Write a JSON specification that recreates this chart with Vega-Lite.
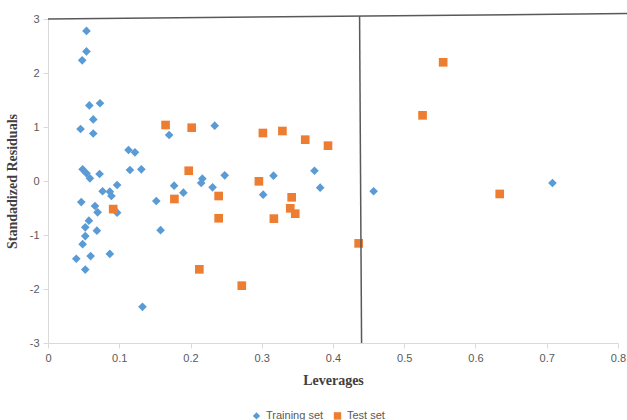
{
  "$schema": "https://vega.github.io/schema/vega-lite/v6.json",
  "width": 570,
  "height": 324,
  "autosize": "none",
  "padding": {"left": 48, "top": 19, "right": 9, "bottom": 77},
  "background": "white",
  "config": {
    "view": {"stroke": null},
    "axis": {
      "grid": false,
      "domainColor": "#d9d9d9",
      "tickColor": "#d9d9d9",
      "tickSize": 5,
      "labelFlush": false,
      "labelColor": "#595959",
      "labelFont": "Liberation Sans",
      "labelFontSize": 11,
      "titleFont": "Liberation Serif",
      "titleFontSize": 14,
      "titleFontWeight": "bold",
      "titleColor": "#404040"
    }
  },
  "datasets": {
    "points": [
      {"lev": 0.054, "res": 2.78, "set": "Training set"},
      {"lev": 0.054, "res": 2.40, "set": "Training set"},
      {"lev": 0.048, "res": 2.235, "set": "Training set"},
      {"lev": 0.058, "res": 1.40, "set": "Training set"},
      {"lev": 0.073, "res": 1.44, "set": "Training set"},
      {"lev": 0.0635, "res": 1.14, "set": "Training set"},
      {"lev": 0.0457, "res": 0.963, "set": "Training set"},
      {"lev": 0.0635, "res": 0.88, "set": "Training set"},
      {"lev": 0.170, "res": 0.852, "set": "Training set"},
      {"lev": 0.113, "res": 0.574, "set": "Training set"},
      {"lev": 0.122, "res": 0.531, "set": "Training set"},
      {"lev": 0.234, "res": 1.024, "set": "Training set"},
      {"lev": 0.0486, "res": 0.216, "set": "Training set"},
      {"lev": 0.054, "res": 0.142, "set": "Training set"},
      {"lev": 0.0588, "res": 0.05, "set": "Training set"},
      {"lev": 0.0724, "res": 0.13, "set": "Training set"},
      {"lev": 0.115, "res": 0.204, "set": "Training set"},
      {"lev": 0.131, "res": 0.216, "set": "Training set"},
      {"lev": 0.097, "res": -0.074, "set": "Training set"},
      {"lev": 0.0766, "res": -0.19, "set": "Training set"},
      {"lev": 0.0868, "res": -0.198, "set": "Training set"},
      {"lev": 0.089, "res": -0.278, "set": "Training set"},
      {"lev": 0.0467, "res": -0.39, "set": "Training set"},
      {"lev": 0.066, "res": -0.463, "set": "Training set"},
      {"lev": 0.0696, "res": -0.58, "set": "Training set"},
      {"lev": 0.097, "res": -0.586, "set": "Training set"},
      {"lev": 0.0574, "res": -0.735, "set": "Training set"},
      {"lev": 0.0523, "res": -0.858, "set": "Training set"},
      {"lev": 0.0686, "res": -0.92, "set": "Training set"},
      {"lev": 0.0523, "res": -1.02, "set": "Training set"},
      {"lev": 0.0486, "res": -1.17, "set": "Training set"},
      {"lev": 0.0397, "res": -1.44, "set": "Training set"},
      {"lev": 0.0598, "res": -1.39, "set": "Training set"},
      {"lev": 0.0868, "res": -1.35, "set": "Training set"},
      {"lev": 0.0523, "res": -1.64, "set": "Training set"},
      {"lev": 0.1326, "res": -2.33, "set": "Training set"},
      {"lev": 0.152, "res": -0.37, "set": "Training set"},
      {"lev": 0.158, "res": -0.91, "set": "Training set"},
      {"lev": 0.177, "res": -0.087, "set": "Training set"},
      {"lev": 0.19, "res": -0.216, "set": "Training set"},
      {"lev": 0.2166, "res": 0.043, "set": "Training set"},
      {"lev": 0.215, "res": -0.037, "set": "Training set"},
      {"lev": 0.248, "res": 0.105, "set": "Training set"},
      {"lev": 0.231, "res": -0.117, "set": "Training set"},
      {"lev": 0.3165, "res": 0.099, "set": "Training set"},
      {"lev": 0.302, "res": -0.253, "set": "Training set"},
      {"lev": 0.374, "res": 0.19, "set": "Training set"},
      {"lev": 0.382, "res": -0.123, "set": "Training set"},
      {"lev": 0.457, "res": -0.19, "set": "Training set"},
      {"lev": 0.708, "res": -0.037, "set": "Training set"},
      {"lev": 0.165, "res": 1.037, "set": "Test set"},
      {"lev": 0.2017, "res": 0.987, "set": "Test set"},
      {"lev": 0.3016, "res": 0.889, "set": "Test set"},
      {"lev": 0.329, "res": 0.926, "set": "Test set"},
      {"lev": 0.361, "res": 0.765, "set": "Test set"},
      {"lev": 0.393, "res": 0.654, "set": "Test set"},
      {"lev": 0.1975, "res": 0.19, "set": "Test set"},
      {"lev": 0.1774, "res": -0.333, "set": "Test set"},
      {"lev": 0.2395, "res": -0.278, "set": "Test set"},
      {"lev": 0.2395, "res": -0.69, "set": "Test set"},
      {"lev": 0.0915, "res": -0.52, "set": "Test set"},
      {"lev": 0.296, "res": -0.006, "set": "Test set"},
      {"lev": 0.342, "res": -0.302, "set": "Test set"},
      {"lev": 0.34, "res": -0.506, "set": "Test set"},
      {"lev": 0.347, "res": -0.605, "set": "Test set"},
      {"lev": 0.317, "res": -0.697, "set": "Test set"},
      {"lev": 0.2124, "res": -1.636, "set": "Test set"},
      {"lev": 0.272, "res": -1.938, "set": "Test set"},
      {"lev": 0.5257, "res": 1.216, "set": "Test set"},
      {"lev": 0.436, "res": -1.155, "set": "Test set"},
      {"lev": 0.5546, "res": 2.198, "set": "Test set"},
      {"lev": 0.634, "res": -0.24, "set": "Test set"}
    ],
    "lines": [
      {"x": 0, "y": 3, "x2": 0.8126, "y2": 3.1},
      {"x": 0.4373, "y": 3.055, "x2": 0.4401, "y2": -3}
    ]
  },
  "layer": [
    {
      "data": {"name": "points"},
      "mark": {"type": "point", "filled": true, "opacity": 1, "size": 75},
      "encoding": {
        "x": {
          "field": "lev", "type": "quantitative", "title": "Leverages",
          "scale": {"domain": [0, 0.8], "nice": false},
          "axis": {"values": [0, 0.1, 0.2, 0.3, 0.4, 0.5, 0.6, 0.7, 0.8], "format": "~g", "titlePadding": 10, "labelPadding": 4}
        },
        "y": {
          "field": "res", "type": "quantitative", "title": "Standadized Residuals",
          "scale": {"domain": [-3, 3], "nice": false},
          "axis": {"values": [-3, -2, -1, 0, 1, 2, 3], "labelExpr": "toString(datum.value)", "titlePadding": 10, "labelPadding": 4}
        },
        "color": {
          "field": "set", "type": "nominal",
          "scale": {"domain": ["Training set", "Test set"], "range": ["#5B9BD5", "#ED7D31"]},
          "legend": {"orient": "none", "legendX": 203, "legendY": 391, "direction": "horizontal", "title": null, "labelFont": "Liberation Sans", "labelFontSize": 11, "labelColor": "#595959", "symbolSize": 55, "columnPadding": 6, "symbolOpacity": 1}
        },
        "shape": {
          "field": "set", "type": "nominal",
          "scale": {"domain": ["Training set", "Test set"], "range": ["diamond", "square"]},
          "legend": {"orient": "none", "legendX": 203, "legendY": 391, "direction": "horizontal", "title": null, "labelFont": "Liberation Sans", "labelFontSize": 11, "labelColor": "#595959", "symbolSize": 55, "columnPadding": 6, "symbolOpacity": 1}
        }
      }
    },
    {
      "data": {"name": "lines"},
      "mark": {"type": "rule", "color": "#595959", "strokeWidth": 1.5},
      "encoding": {
        "x": {"field": "x", "type": "quantitative", "title": "Leverages"},
        "y": {"field": "y", "type": "quantitative", "title": "Standadized Residuals"},
        "x2": {"field": "x2"},
        "y2": {"field": "y2"}
      }
    }
  ]
}
